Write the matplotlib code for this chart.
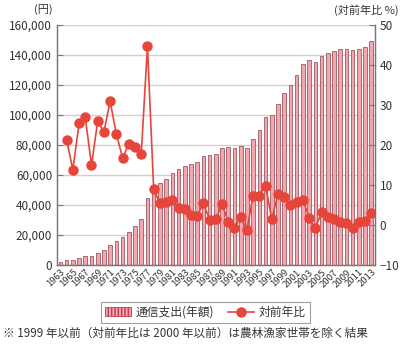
import matplotlib
matplotlib.use("Agg")
import matplotlib.pyplot as plt
from matplotlib.patches import Patch
from matplotlib.lines import Line2D
from matplotlib.ticker import FuncFormatter

plt.rcParams['font.family'] = ['Noto Sans CJK JP', 'DejaVu Sans']

years = list(range(1963, 2014))
spending = [2200, 2900, 3500, 4400, 5600, 6200, 8000, 9800, 12900, 15600,
            18400, 22200, 26200, 30900, 44700, 51300, 54400, 57500, 61000, 63700,
            65900, 67500, 68900, 72400, 73100, 74200, 78000, 78700, 77800, 79300,
            78200, 83800, 89800, 98400, 99800, 107100, 114400, 119800, 126400, 134200,
            136400, 135100, 139600, 141100, 142900, 143800, 144000, 143300, 144200, 145300,
            149500]
yoy_years = list(range(1964, 2014))
yoy = [21.2, 13.8, 25.4, 26.9, 14.9, 26.0, 23.3, 30.9, 22.7, 16.8,
       20.2, 19.6, 17.7, 44.7, 8.9, 5.4, 5.8, 6.2, 4.2, 3.9,
       2.4, 2.2, 5.4, 1.3, 1.4, 5.1, 0.8, -0.9, 2.0, -1.2,
       7.3, 7.2, 9.8, 1.4, 7.8, 6.9, 5.0, 5.8, 6.3, 1.8,
       -0.9, 3.2, 1.9, 1.4, 0.8, 0.4, -0.9, 0.8, 0.9, 3.0]
tick_years = list(range(1963, 2014, 2))

bar_face = '#f5a5ae'
bar_edge = '#9a5a62'
line_col = '#e5453a'
txt = '#333333'

fig = plt.figure(figsize=(4.13, 3.48), dpi=100)
ax = fig.add_axes([0.138, 0.239, 0.770, 0.689])
ax2 = ax.twinx()

ax.bar(years, spending, width=0.58, color=bar_face, edgecolor=bar_edge, linewidth=0.6, zorder=2)
ax.set_ylim(0, 160000)
ax.set_xlim(1962.45, 2013.6)
ax.set_yticks(range(0, 160001, 20000))
ax.yaxis.set_major_formatter(FuncFormatter(lambda v, p: f"{int(v):,}"))
ax.grid(axis='y', color='#d0d0d0', linewidth=1.0, zorder=0)
ax.set_axisbelow(True)
ax.set_xticks(tick_years)
ax.set_xticklabels([str(y) for y in tick_years], rotation=45, ha='right',
                   rotation_mode='anchor', fontsize=6.8, color=txt)
ax.tick_params(axis='x', length=0, pad=2)
ax.tick_params(axis='y', direction='in', length=4, labelsize=8.5, labelcolor=txt, color='#777777')

ax2.plot(yoy_years, yoy, color=line_col, linewidth=1.2, marker='o', markersize=6.5, zorder=3)
ax2.set_ylim(-10, 50)
ax2.set_yticks(range(-10, 51, 10))
ax2.tick_params(axis='y', direction='in', length=4, labelsize=8.5, labelcolor=txt, color='#777777')

for a in (ax, ax2):
    a.spines['top'].set_visible(False)
    for s in ('left', 'right', 'bottom'):
        a.spines[s].set_color('#777777')
        a.spines[s].set_linewidth(0.9)

fig.text(0.082, 0.988, '(円)', fontsize=8, color=txt, ha='left', va='top')
fig.text(0.965, 0.988, '(対前年比 %)', fontsize=8, color=txt, ha='right', va='top')

handles = [Patch(facecolor=bar_face, edgecolor='#c04050', hatch='|||||', linewidth=0.6),
           Line2D([0], [0], color=line_col, marker='o', markersize=6.5, linewidth=1.2)]
leg = fig.legend(handles, ['通信支出(年額)', '対前年比'], loc='center', bbox_to_anchor=(0.497, 0.103),
                 ncol=2, fontsize=8.5, frameon=True, fancybox=False, edgecolor='#888888',
                 handlelength=2.2, handletextpad=0.4, columnspacing=1.2, borderpad=0.35)
leg.get_frame().set_linewidth(0.8)
for t in leg.get_texts():
    t.set_color(txt)

fig.text(0.008, 0.022, '※ 1999 年以前（対前年比は 2000 年以前）は農林漁家世帯を除く結果',
         fontsize=8.4, color=txt, ha='left', va='bottom')

fig.savefig('out.png', dpi=100)
